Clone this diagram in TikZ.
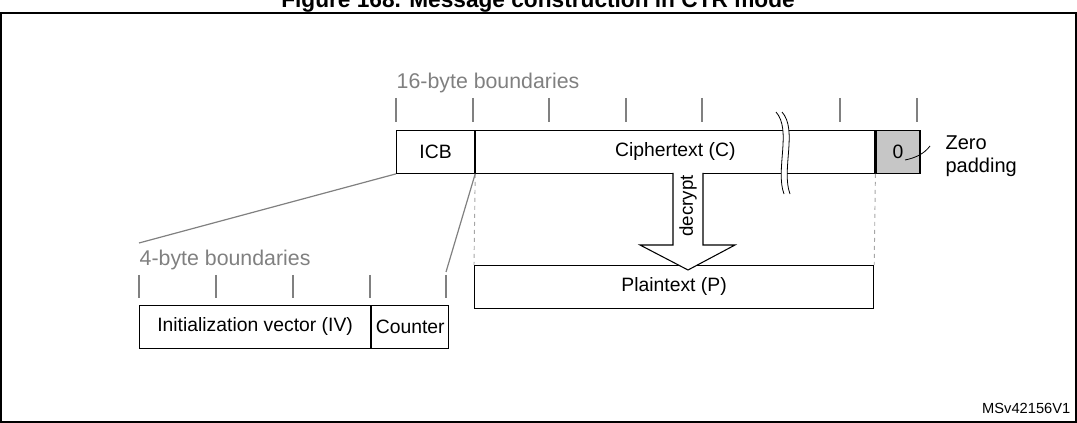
\documentclass[tikz,border=0pt]{standalone}
\usepackage{fontspec}
\setmainfont{Liberation Sans}
\begin{document}
\begin{tikzpicture}[x=0.75pt,y=-0.75pt,font=\fontsize{14.5}{16}\selectfont,
    field/.style={draw,line width=0.9pt,minimum height=32pt,inner sep=0pt},
    tick/.style={gray,line width=0.9pt},
    link/.style={gray,line width=0.9pt},
    guide/.style={gray!70,dashed,line width=0.7pt}]
    % frame
    \useasboundingbox (0,0) rectangle (1077,423);
    \draw[line width=1pt] (1,13) rectangle (1076,422);
    \node[font=\bfseries\fontsize{17}{19}\selectfont,anchor=base] (title) at (538,8) {Figure 168. Message construction in CTR mode};
    % upper row
    \node[gray,anchor=base west,font=\fontsize{16}{18}\selectfont] (bnd16) at (392,89) {16-byte boundaries};
    \foreach \x in {396,473,549,626,702,840,917}
        \draw[tick] (\x,98) -- (\x,122);
    \node[field,minimum width=58.5pt,anchor=north west] (icb) at (396,130) {ICB};
    \node[field,minimum width=299.25pt,anchor=north west] (ct) at (icb.north east) {Ciphertext (C)};
    \node[field,fill=gray!45,minimum width=33pt,anchor=north west] (pad) at (ct.north east) {0};
    \node[align=left,anchor=west,font=\fontsize{15}{17}\selectfont,inner sep=1pt] (zero) at (944,156) {Zero\\padding};
    \draw[line width=0.6pt] (905,160) .. controls (915,158) and (924,154) .. (930,146);
    % break
    \fill[white] (776,112) .. controls (792,130) and (775,170) .. (784,194)
        -- (790,194) .. controls (781,170) and (798,130) .. (782,112) -- cycle;
    \draw[line width=0.6pt] (776,112) .. controls (792,130) and (775,170) .. (784,194);
    \draw[line width=0.6pt] (782,112) .. controls (798,130) and (781,170) .. (790,194);
    % plaintext
    \node[field,minimum width=299.25pt,anchor=north west] (pt) at (474,265) {Plaintext (P)};
    \draw[guide] (ct.south west) -- (pt.north west);
    \draw[guide] (ct.south east) -- (pt.north east);
    \draw[line width=0.8pt,fill=white] (673,173) -- (673,245) -- (640,245) -- (688,270)
        -- (735,245) -- (703,245) -- (703,173);
    \node[rotate=90,font=\fontsize{14}{16}\selectfont] (declbl) at (688,206) {decrypt};
    % lower row
    \node[gray,anchor=base west,font=\fontsize{16}{18}\selectfont] (bnd4) at (135,266) {4-byte boundaries};
    \foreach \x in {139,216,293,370,446}
        \draw[tick] (\x,275) -- (\x,298);
    \node[field,minimum width=173.25pt,anchor=north west] (iv) at (139,305) {Initialization vector (IV)};
    \node[field,minimum width=57.75pt,anchor=north west] (cnt) at (iv.north east) {Counter};
    \coordinate (ivtop) at (139,243);
    \coordinate (cnttop) at (446,272);
    \draw[link] (icb.south west) -- (ivtop);
    \draw[link] (icb.south east) -- (cnttop);
    \node[anchor=east,font=\fontsize{11}{13}\selectfont] (ref) at (1075,408) {MSv42156V1};
\end{tikzpicture}
\end{document}
